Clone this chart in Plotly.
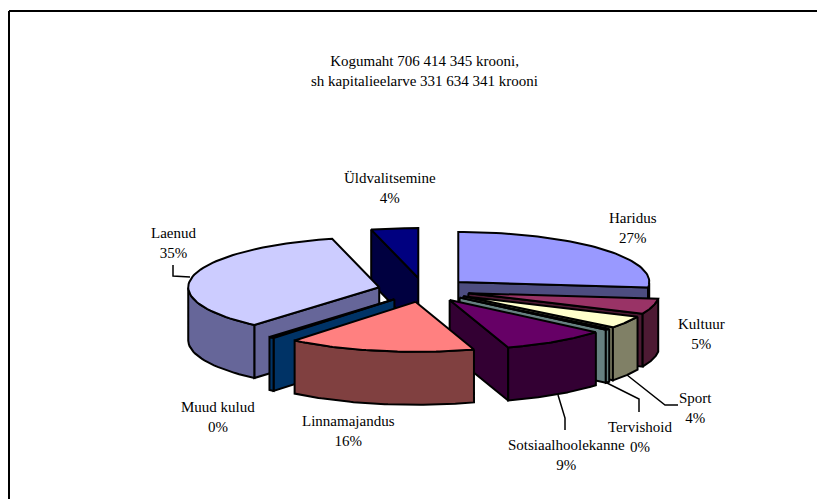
import numpy as np
import plotly.graph_objects as go

categories = ["Haridus", "Kultuur", "Sport", "Tervishoid", "Sotsiaalhoolekanne",
              "Linnamajandus", "Muud kulud", "Laenud", "Üldvalitsemine"]
values = [27.0, 5.0, 4.0, 0.45, 9.0, 16.0, 0.45, 35.0, 4.0]
percent_labels = ["27%", "5%", "4%", "0%", "9%", "16%", "0%", "35%", "4%"]
top_colors = ["#9999FF", "#993366", "#FFFFCC", "#CCFFFF", "#660066",
              "#FF8080", "#0066CC", "#CCCCFF", "#000080"]
side_colors = ["#4D4D80", "#4D1A33", "#808066", "#668080", "#330033",
               "#804040", "#003366", "#666699", "#000040"]
title_lines = ["Kogumaht 706 414 345 krooni,", "sh kapitalieelarve 331 634 341 krooni"]

# projection of the pie, in page pixels
CX, CY, RX, RY, DEPTH, EXPLODE = 424, 290, 191, 50, 53, 46
draw_order = [8, 0, 1, 2, 3, 4, 7, 6, 5]

total = sum(values)
edges = np.concatenate([[0], np.cumsum(values)]) / total * 2 * np.pi


def ground(a, r, apex):
    return apex[0] + r * RX * np.sin(a), apex[1] - r * RY * np.cos(a)


fig = go.Figure()


def poly(xs, ys, color):
    fig.add_trace(go.Scatter(x=list(xs) + [xs[0]], y=list(ys) + [ys[0]], mode="lines",
                             fill="toself", fillcolor=color,
                             line=dict(color="black", width=2),
                             hoverinfo="skip", showlegend=False))


for i in draw_order:
    a, b = edges[i], edges[i + 1]
    mid = (a + b) / 2
    apex = (CX + EXPLODE * np.sin(mid), CY - EXPLODE * RY / RX * np.cos(mid))
    arc = np.linspace(a, b, 60)
    ax, ay = ground(arc, 1, apex)
    # cut faces that look towards the viewer
    if np.sin(a) < 0:
        x, y = ground(a, 1, apex)
        poly([apex[0], x, x, apex[0]], [apex[1], y, y + DEPTH, apex[1] + DEPTH], side_colors[i])
    if np.sin(b) > 1e-6:
        x, y = ground(b, 1, apex)
        poly([apex[0], x, x, apex[0]], [apex[1], y, y + DEPTH, apex[1] + DEPTH], side_colors[i])
    # outer rim, front half only
    front = arc[np.cos(arc) <= 0]
    if front.size > 1:
        fx, fy = ground(front, 1, apex)
        poly(list(fx) + list(fx[::-1]), list(fy) + list(fy[::-1] + DEPTH), side_colors[i])
    # top surface
    poly([apex[0]] + list(ax), [apex[1]] + list(ay), top_colors[i])

# leader lines
leaders = [
    ([173, 173, 190], [265, 276, 277]),
    ([627, 665, 678], [375, 405, 405]),
    ([607, 639, 639], [383, 399, 412]),
    ([558, 565, 565], [395, 418, 430]),
]
for lx, ly in leaders:
    fig.add_trace(go.Scatter(x=lx, y=ly, mode="lines", line=dict(color="black", width=1.5),
                             hoverinfo="skip", showlegend=False))

label_pos = {
    0: (633, 228), 1: (701, 334), 2: (695, 408), 3: (640, 437), 4: (566, 455),
    5: (348, 431), 6: (218, 417), 7: (173, 243), 8: (390, 188),
}
font = dict(family="Liberation Serif", size=15, color="black")
annotations = []
for i, (x, y) in label_pos.items():
    annotations.append(dict(x=x, y=y, xref="x", yref="y", showarrow=False, font=font, align="center",
                            text=f"{categories[i]}<br>{percent_labels[i]}"))
annotations.append(dict(x=424, y=70.5, xref="x", yref="y", showarrow=False, font=font, align="center",
                        text="<br>".join(title_lines)))

# The page body has an 8px margin, so the axes start at page pixel 8.
fig.update_layout(
    width=817, height=491, margin=dict(l=0, r=0, t=0, b=0), autosize=False,
    paper_bgcolor="white", plot_bgcolor="white",
    xaxis=dict(range=[8, 825], visible=False, fixedrange=True),
    yaxis=dict(range=[499, 8], visible=False, fixedrange=True),
    annotations=annotations,
    shapes=[
        dict(type="line", x0=9, y0=11, x1=825, y1=11, xref="x", yref="y", line=dict(color="black", width=2)),
        dict(type="line", x0=9, y0=11, x1=9, y1=499, xref="x", yref="y", line=dict(color="black", width=2)),
    ],
)
fig.write_html("out.html", config={"displayModeBar": False})
